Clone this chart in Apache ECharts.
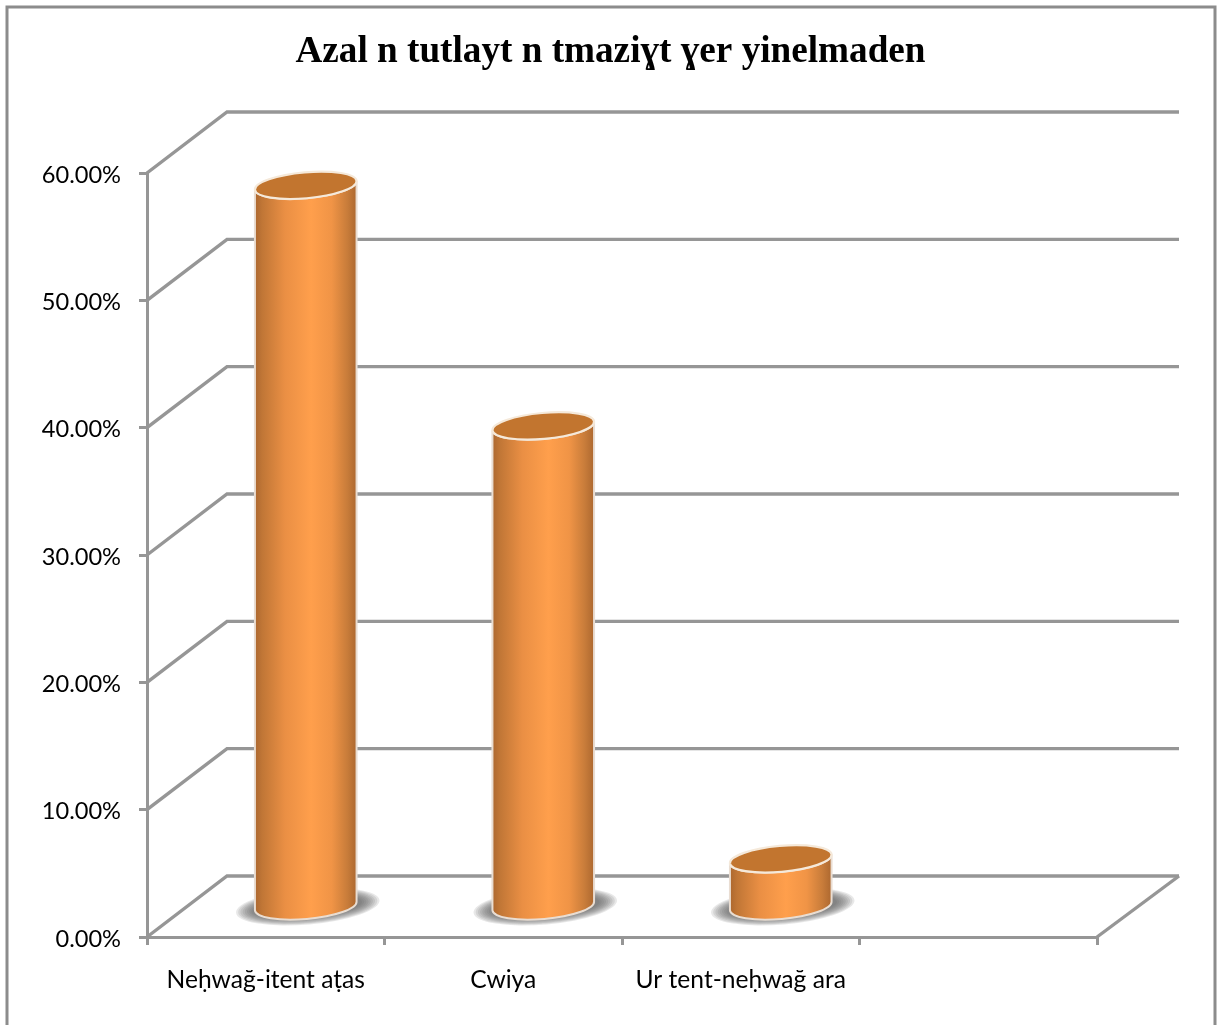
<!DOCTYPE html>
<html>
<head>
<meta charset="utf-8">
<style>html,body{margin:0;padding:0;background:#fff}#c{width:1221px;height:1025px}</style>
<script src="https://cdn.jsdelivr.net/npm/echarts@6/dist/echarts.min.js"></script>
</head>
<body>
<div id="c"></div>
<script>
const titleText = 'Azal n tutlayt n tmaziɣt ɣer yinelmaden';
const categories = ['Neḥwağ-itent aṭas', 'Cwiya', 'Ur tent-neḥwağ ara', ''];
const values = [56.6, 37.7, 3.7];
const tickValues = [0, 10, 20, 30, 40, 50, 60];

const GRAY = '#969696';
const WALL = [80, -61];
const MID = [40, -31];
const RX = 51, RY = 13, ROT = -5;

const chart = echarts.init(document.getElementById('c'), null, {renderer: 'canvas'});

function wallItem(params, api) {
  const cs = params.coordSys;
  const y = api.coord([0, api.value(0)])[1];
  const x0 = cs.x, x1 = cs.x + cs.width;
  const children = [{
    type: 'polyline',
    shape: {points: [[x0, y], [x0 + WALL[0], y + WALL[1]], [x1 + WALL[0] + 2, y + WALL[1]]]},
    style: {stroke: GRAY, lineWidth: 3.4, fill: null}
  }];
  if (api.value(0) === 0) {
    children.push({
      type: 'line',
      shape: {x1: x1, y1: y, x2: x1 + WALL[0] + 2, y2: y + WALL[1]},
      style: {stroke: GRAY, lineWidth: 3.4}
    });
  }
  return {type: 'group', children};
}

function ellipsePath(cx, cy, rx, ry) {
  const c = Math.cos(ROT * Math.PI / 180), s = Math.sin(ROT * Math.PI / 180);
  const ax = rx * c, ay = rx * s;
  return `M${cx - ax} ${cy - ay}A${rx} ${ry} ${ROT} 1 1 ${cx + ax} ${cy + ay}A${rx} ${ry} ${ROT} 1 1 ${cx - ax} ${cy - ay}Z`;
}

function barItem(params, api) {
  const top = api.coord([api.value(0), api.value(1)]);
  const base = api.coord([api.value(0), 0]);
  const cx = top[0] + MID[0];
  const ty = top[1] + MID[1];
  const by = base[1] + MID[1];
  const c = Math.cos(ROT * Math.PI / 180), s = Math.sin(ROT * Math.PI / 180);
  const ax = RX * c, ay = RX * s;
  const body = `M${cx - ax} ${ty - ay}L${cx - ax} ${by - ay}` +
    `A${RX} ${RY} ${ROT} 0 0 ${cx + ax} ${by + ay}` +
    `L${cx + ax} ${ty + ay}` +
    `A${RX} ${RY} ${ROT} 0 1 ${cx - ax} ${ty - ay}Z`;
  const soft = [];
  for (let k = 0; k < 9; k++) {
    soft.push({
      type: 'path',
      shape: {pathData: ellipsePath(cx + 2, by + 0.5, 72 - k * 2.2, 18 - k * 0.9)},
      style: {fill: 'rgba(90,90,90,0.14)'}
    });
  }
  return {
    type: 'group',
    children: soft.concat([
      {
        type: 'path',
        shape: {pathData: body},
        style: {
          fill: new echarts.graphic.LinearGradient(0, 0, 1, 0, [
            {offset: 0, color: '#a9652e'},
            {offset: 0.08, color: '#c07636'},
            {offset: 0.3, color: '#ea8f44'},
            {offset: 0.55, color: '#ff9f4c'},
            {offset: 0.75, color: '#f09446'},
            {offset: 0.9, color: '#c87c3a'},
            {offset: 1, color: '#a9652e'}
          ]),
          stroke: '#e9ddd2', lineWidth: 2
        }
      },
      {
        type: 'path',
        shape: {pathData: ellipsePath(cx, ty, RX, RY)},
        style: {fill: '#c2752f', stroke: '#f5e9da', lineWidth: 2.2}
      }
    ])
  };
}

chart.setOption({
  animation: false,
  backgroundColor: '#fff',
  title: {
    text: titleText, left: 605.5, top: 29, textAlign: 'center',
    textStyle: {fontFamily: '"Liberation Serif"', fontWeight: 'bold', fontSize: 37.2, color: '#000'}
  },
  graphic: [{
    type: 'rect', silent: true, z: -1,
    shape: {x: 7, y: 7, width: 1208, height: 1060},
    style: {fill: '#fff', stroke: '#8c8c8c', lineWidth: 3}
  }],
  grid: {left: 147, top: 173, width: 950, height: 764, containLabel: false},
  xAxis: {
    type: 'category', data: categories,
    axisLine: {show: true, lineStyle: {color: GRAY, width: 3}},
    axisTick: {show: true, alignWithLabel: false, length: 8, lineStyle: {color: GRAY, width: 3}},
    axisLabel: {interval: 0, margin: 31, color: '#000', fontFamily: 'Lato, "Noto Sans"', fontSize: 24.6}
  },
  yAxis: {
    type: 'value', min: 0, max: 60, interval: 10,
    splitLine: {show: false},
    axisLine: {show: true, lineStyle: {color: GRAY, width: 3}},
    axisTick: {show: true, length: 8, lineStyle: {color: GRAY, width: 3}},
    axisLabel: {margin: 26, color: '#000', fontFamily: 'Lato, "Noto Sans"', fontSize: 23.6,
                verticalAlign: 'top', lineHeight: 4,
                formatter: v => v.toFixed(2) + '%'}
  },
  series: [
    {type: 'custom', silent: true, clip: false, z: 1, renderItem: wallItem,
     data: tickValues.map(v => [v]), encode: {y: 0}},
    {type: 'custom', silent: true, clip: false, z: 3, renderItem: barItem,
     data: values.map((v, i) => [i, v]), encode: {x: 0, y: 1}}
  ]
});
</script>
</body>
</html>
